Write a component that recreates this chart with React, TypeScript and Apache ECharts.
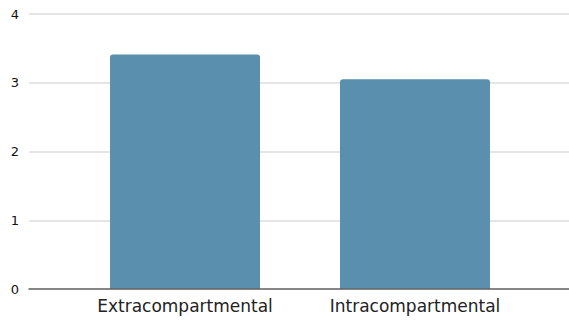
import React, { useEffect, useRef } from "react";
import * as echarts from "echarts";

const categories = ["Extracompartmental", "Intracompartmental"];
const values = [3.41, 3.05];
const yTicks = { min: 0, max: 4, interval: 1 };

export default function App() {
  const ref = useRef<HTMLDivElement>(null);
  useEffect(() => {
    if (!ref.current) return;
    const chart = echarts.init(ref.current, undefined, { renderer: "svg" });
    chart.setOption({
      animation: false,
      backgroundColor: "#ffffff",
      textStyle: { fontFamily: "DejaVu Sans" },
      grid: [
        { left: 29, right: 0, top: 14, bottom: 31 },
        { left: 70, right: 39, top: 14, bottom: 31 },
      ],
      xAxis: [
        {
          type: "category",
          gridIndex: 0,
          data: [""],
          axisLine: { show: true, lineStyle: { color: "#666666", width: 1.5 } },
          axisTick: { show: false },
          axisLabel: { show: false },
          z: 5,
        },
        {
          type: "category",
          gridIndex: 1,
          data: categories,
          axisLine: { show: false },
          axisTick: { show: false },
          axisLabel: {
            color: "#222222",
            fontSize: 17,
            fontFamily: "DejaVu Sans",
            margin: 8,
          },
        },
      ],
      yAxis: [
        {
          type: "value",
          gridIndex: 0,
          min: yTicks.min,
          max: yTicks.max,
          interval: yTicks.interval,
          axisLine: { show: false },
          axisTick: { show: false },
          axisLabel: {
            color: "#111111",
            fontSize: 13,
            fontFamily: "DejaVu Sans",
            margin: 10,
          },
          splitLine: { lineStyle: { color: "#dddddd", width: 1.5 } },
        },
        {
          type: "value",
          gridIndex: 1,
          min: yTicks.min,
          max: yTicks.max,
          interval: yTicks.interval,
          show: false,
          splitLine: { show: false },
        },
      ],
      series: [
        {
          type: "bar",
          xAxisIndex: 1,
          yAxisIndex: 1,
          data: values,
          barWidth: 150,
          itemStyle: { color: "#5a8fad", borderRadius: [3, 3, 0, 0] },
        },
      ],
    });
    return () => chart.dispose();
  }, []);
  return (
    <div
      ref={ref}
      style={{ position: "fixed", left: 0, top: 0, width: 569, height: 320 }}
    />
  );
}
